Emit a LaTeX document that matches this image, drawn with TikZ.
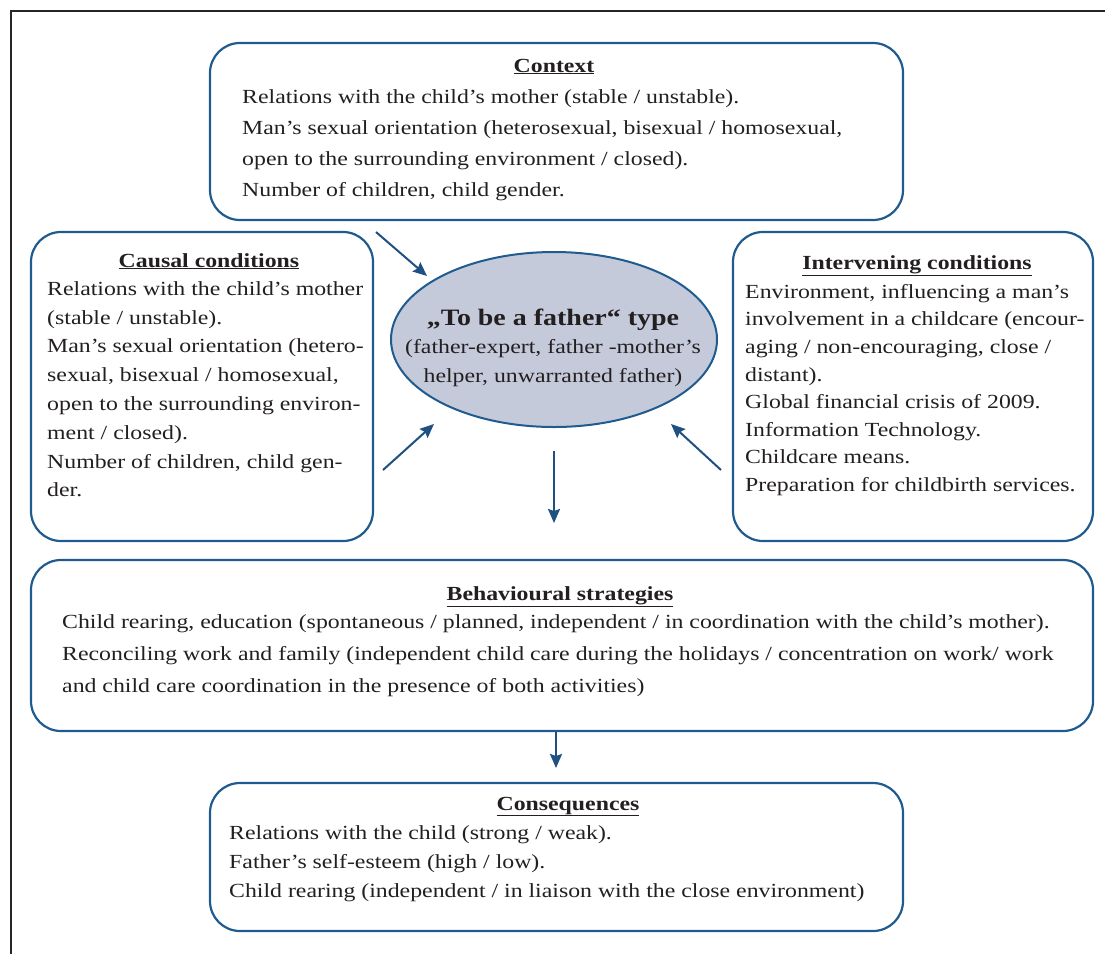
\documentclass[tikz,border=0pt]{standalone}
\usepackage{fontspec}
\setmainfont{Liberation Serif}[FakeStretch=1.19]
\usetikzlibrary{arrows.meta,shapes.geometric}
\definecolor{boxblue}{HTML}{1F5B8E}
\definecolor{ellfill}{HTML}{C5CADB}
\definecolor{arrblue}{HTML}{1F5082}
\definecolor{ink}{HTML}{231F20}
\newcommand\hstrut{\rule{0pt}{16pt}}
\begin{document}
\begin{tikzpicture}[x=1pt,y=-1pt,
  box/.style={draw=boxblue, line width=2.2pt, rounded corners=30pt, inner sep=0pt, rectangle},
  arr/.style={draw=arrblue, line width=2pt, -{Stealth[length=14pt,width=12pt,inset=2pt]}},
  txt/.style={inner sep=0pt, anchor=north west, align=left, text=ink, font=\fontsize{20}{#1}\selectfont},
  ttl/.style={inner sep=0pt, anchor=base, text=ink, font=\fontsize{20}{24}\selectfont\bfseries}]
\useasboundingbox (0,0) rectangle (1105,954);
% frame
\draw[line width=1.3pt, black!85] (1105,11) -- (11,11) -- (11,954);

% boxes
\node[box, minimum width=693pt, minimum height=177pt] (ctx) at (556.5,131.5) {};
\node[box, minimum width=342pt, minimum height=309pt] (cau) at (202,386.5) {};
\node[box, minimum width=360pt, minimum height=309pt] (int) at (913,386.5) {};
\node[box, minimum width=1062pt, minimum height=171pt] (beh) at (562,645.5) {};
\node[box, minimum width=693pt, minimum height=148pt] (con) at (556.5,857) {};
\node[draw=boxblue, fill=ellfill, ellipse, line width=2pt, minimum width=326pt, minimum height=175pt, inner sep=0pt] (father) at (554,339.5) {};

% titles
\node[ttl] (ctxt) at (554,72) {\underline{Context}};
\node[ttl] (caut) at (209,267) {\underline{Causal conditions}};
\node[ttl] (intt) at (917,269) {\underline{Intervening conditions}};
\node[ttl] (beht) at (560,600) {\underline{Behavioural strategies}};
\node[ttl] (cont) at (568,810) {\underline{Consequences}};
\node[ttl, font=\fontsize{23.5}{28}\selectfont\bfseries] (fathert) at (553,325) {„To be a father“ type};
\node[inner sep=0pt, anchor=north, align=center, text=ink, font=\fontsize{20}{29.5}\selectfont] (fathers) at (553,337)
  {\hstrut(father-expert, father -mother’s\\helper, unwarranted father)};

% bodies
\node[txt=31] (ctxb) at (242,87) {\hstrut Relations with the child’s mother (stable / unstable).\\
Man’s sexual orientation (heterosexual, bisexual / homosexual,\\
open to the surrounding environment / closed).\\
Number of children, child gender.};
\node[txt=28.8] (caub) at (47,279) {\hstrut Relations with the child’s mother\\
(stable / unstable).\\
Man’s sexual orientation (hetero-\\
sexual, bisexual / homosexual,\\
open to the surrounding environ-\\
ment / closed).\\
Number of children, child gen-\\
der.};
\node[txt=27.6] (intb) at (745,282) {\hstrut Environment, influencing a man’s\\
involvement in a childcare (encour-\\
aging / non-encouraging, close /\\
distant).\\
Global financial crisis of 2009.\\
Information Technology.\\
Childcare means.\\
Preparation for childbirth services.};
\node[txt=32] (behb) at (62,612) {\hstrut Child rearing, education (spontaneous / planned, independent / in coordination with the child’s mother).\\
Reconciling work and family (independent child care during the holidays / concentration on work/ work\\
and child care coordination in the presence of both activities)};
\node[txt=29] (conb) at (229,823) {\hstrut Relations with the child (strong / weak).\\
Father’s self-esteem (high / low).\\
Child rearing (independent / in liaison with the close environment)};

% arrow endpoints
\coordinate (a1s) at (376,232); \coordinate (a1e) at (427,276);
\coordinate (a2s) at (383,470); \coordinate (a2e) at (434,424);
\coordinate (a3s) at (721,470); \coordinate (a3e) at (671,424);
\coordinate (a4s) at (554,451); \coordinate (a4e) at (554,523);
\coordinate (a5e) at (556,768);
\draw[arr] (a1s) -- (a1e);
\draw[arr] (a2s) -- (a2e);
\draw[arr] (a3s) -- (a3e);
\draw[arr] (a4s) -- (a4e);
\draw[arr] (beh.south -| a5e) -- (a5e);
\end{tikzpicture}
\end{document}
